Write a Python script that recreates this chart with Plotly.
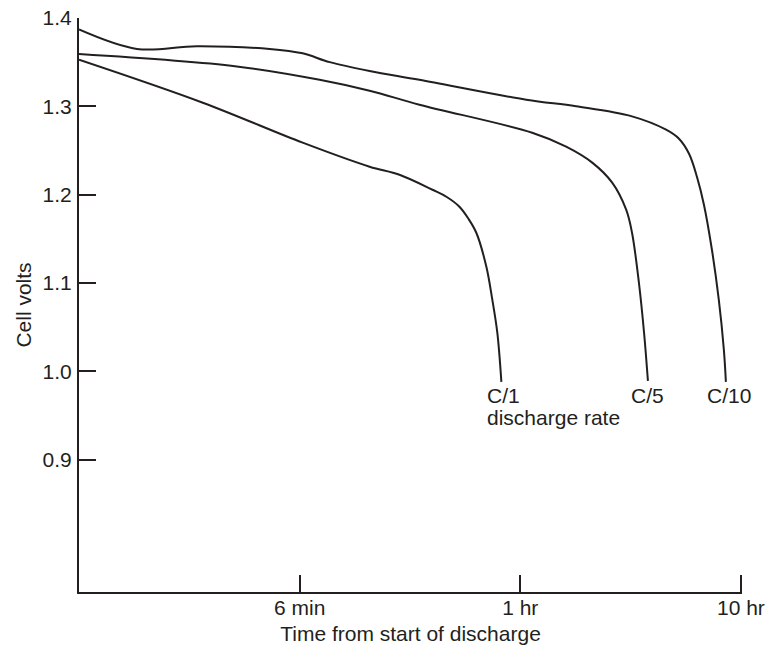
import math
import plotly.graph_objects as go

# Discharge curves, time in hours (log axis), cell voltage in volts
c10_time = [0.01, 0.0183, 0.0342, 0.0731, 0.1032, 0.1368, 0.2075, 0.349, 1.064, 1.79,
            3.21, 4.58, 5.24, 5.82, 6.32, 6.80, 7.39, 7.94, 8.37, 8.55]
c10_volts = [1.387, 1.365, 1.368, 1.365, 1.360, 1.350, 1.340, 1.330, 1.3075, 1.300,
             1.2886, 1.2735, 1.2633, 1.2463, 1.2203, 1.1886, 1.1376, 1.081, 1.0244, 0.988]

c5_time = [0.01, 0.0519, 0.1232, 0.2075, 0.349, 1.133, 1.614, 2.12, 2.61,
           3.02, 3.21, 3.45, 3.64, 3.79]
c5_volts = [1.3592, 1.3452, 1.3301, 1.3177, 1.3018, 1.2701, 1.2543, 1.2362, 1.2135,
            1.1829, 1.1568, 1.1002, 1.0436, 0.989]

c1_time = [0.01, 0.0364, 0.1032, 0.2075, 0.2834, 0.400, 0.4624, 0.530, 0.582, 0.632,
           0.702, 0.747, 0.787, 0.821]
c1_volts = [1.3528, 1.3041, 1.2588, 1.2316, 1.2225, 1.2055, 1.1976, 1.1863, 1.1727, 1.1568,
            1.1183, 1.081, 1.0436, 0.988]

x_tickvals = [0.1, 1, 10]
x_ticktext = ["6 min", "1 hr", "10 hr"]
y_tickvals = [0.9, 1.0, 1.1, 1.2, 1.3, 1.4]
y_ticktext = ["0.9", "1.0", "1.1", "1.2", "1.3", "1.4"]

ink = "#231f20"
font_family = "Liberation Sans, Arial, Helvetica, sans-serif"

fig = go.Figure()
for t, v in [(c10_time, c10_volts), (c5_time, c5_volts), (c1_time, c1_volts)]:
    fig.add_trace(go.Scatter(
        x=t, y=v, mode="lines",
        line=dict(color=ink, width=2, shape="spline", smoothing=1.0),
        showlegend=False, hoverinfo="skip",
    ))

# curve labels (annotation x on a log axis is given as log10)
lab = dict(showarrow=False, font=dict(size=21, color=ink))
fig.add_annotation(x=math.log10(0.695), y=0.9723, text="C/1", xanchor="left", **lab)
fig.add_annotation(x=math.log10(0.695), y=0.9473, text="discharge rate", xanchor="left", **lab)
fig.add_annotation(x=math.log10(3.79), y=0.9723, text="C/5", xanchor="center", **lab)
fig.add_annotation(x=math.log10(8.83), y=0.9723, text="C/10", xanchor="center", **lab)

fig.update_layout(
    width=770, height=651,
    margin=dict(l=79, r=28, t=18, b=59),
    paper_bgcolor="white", plot_bgcolor="white",
    font=dict(family=font_family, size=21, color=ink),
    xaxis=dict(
        type="log", range=[-2, 1.005], automargin=False,
        tickvals=x_tickvals, ticktext=x_ticktext,
        ticks="inside", ticklen=17, tickwidth=2, tickcolor=ink,
        showline=True, linecolor=ink, linewidth=2,
        showgrid=False, zeroline=False,
        ticklabelstandoff=-4, ticklabeloverflow="allow",
        title=dict(text="Time from start of discharge", standoff=8, font=dict(size=21)),
    ),
    yaxis=dict(
        range=[0.75, 1.4], automargin=False,
        tickvals=y_tickvals, ticktext=y_ticktext,
        ticks="inside", ticklen=17, tickwidth=2, tickcolor=ink,
        showline=True, linecolor=ink, linewidth=2,
        showgrid=False, zeroline=False,
        ticklabelstandoff=1, ticklabeloverflow="allow",
        title=dict(text="Cell volts", standoff=5, font=dict(size=21)),
    ),
)

# drop the default 8px page margin so the figure fills the window exactly
fig.write_html("out.html", config={"displayModeBar": False},
               post_script="document.body.style.margin='0';")
